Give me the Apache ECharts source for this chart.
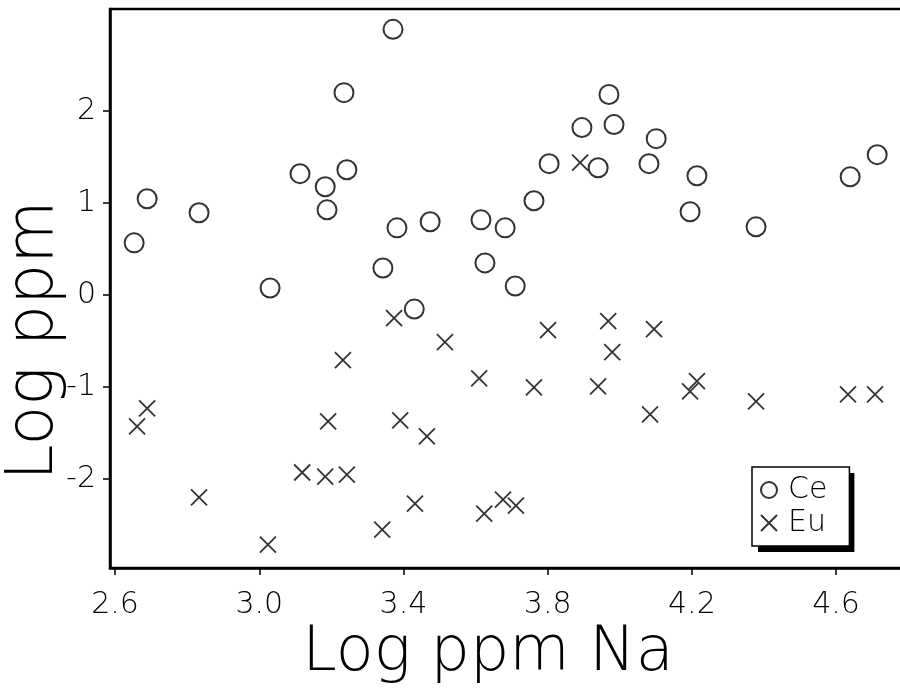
<!DOCTYPE html>
<html>
<head>
<meta charset="utf-8">
<script src="https://cdn.jsdelivr.net/npm/echarts@6/dist/echarts.min.js"></script>
<style>html,body{margin:0;padding:0;background:#fff}#c{width:900px;height:688px}</style>
</head>
<body>
<div id="c"></div>
<script>
// Ce (open circles)
var ceX = [2.653,2.689,2.833,3.030,3.113,3.183,3.188,3.235,3.243,3.371,3.382,3.343,3.474,3.430,3.970,3.895,3.984,4.101,3.804,3.940,4.081,4.214,4.714,4.639,3.762,4.195,3.615,3.682,4.378,3.626,3.710];
var ceY = [0.567,1.046,0.894,0.076,1.319,1.177,0.926,2.20,1.362,2.888,0.730,0.294,0.796,-0.153,2.18,1.82,1.853,1.70,1.428,1.384,1.428,1.297,1.526,1.286,1.025,0.905,0.817,0.730,0.741,0.349,0.098];
// Eu (crosses)
var euX = [2.661,2.689,2.833,3.024,3.119,3.183,3.243,3.191,3.232,3.374,3.391,3.465,3.432,3.341,3.515,3.610,3.801,3.762,3.968,3.979,3.940,4.095,4.084,4.195,4.214,4.378,4.633,4.708,3.624,3.676,3.712,3.890];
var euY = [-1.428,-1.232,-2.20,-2.714,-1.929,-1.973,-1.951,-1.373,-0.708,-0.251,-1.362,-1.537,-2.267,-2.550,-0.512,-0.905,-0.381,-1.003,-0.283,-0.621,-0.992,-0.371,-1.297,-1.046,-0.937,-1.155,-1.079,-1.079,-2.376,-2.223,-2.289,1.439];
var xTicks = [2.6,3.0,3.4,3.8,4.2,4.6];
var yTicks = [-2,-1,0,1,2];
var legendNames = ['Ce','Eu'];

function zip(a,b){return a.map(function(v,i){return [v,b[i]];});}
var FONT = 'DejaVu Sans';
var FW = 200;
var legendCommon = {
  orient:'vertical', padding:[8,22,8,8], itemGap:3, itemWidth:16, itemHeight:16,
  selectedMode:false, data:legendNames
};
var chart = echarts.init(document.getElementById('c'), null, {renderer:'canvas'});
chart.setOption({
  animation:false,
  backgroundColor:'#fff',
  grid:{left:110, right:-10, top:9, bottom:120, show:true, borderColor:'#000', borderWidth:2.5, outerBoundsMode:'none', containLabel:false},
  xAxis:{
    type:'value', min:2.586, max:4.805,
    axisLine:{show:true, onZero:false, lineStyle:{color:'#000', width:2.5}},
    axisTick:{show:true, length:7, lineStyle:{color:'#000', width:1.5}, customValues:xTicks},
    axisLabel:{customValues:xTicks, formatter:function(v){return v.toFixed(1);}, color:'#000', fontSize:30, fontFamily:FONT, fontWeight:FW, margin:22},
    splitLine:{show:false},
    name:'Log ppm Na', nameLocation:'middle', nameGap:55, nameMoveOverlap:false,
    nameTextStyle:{fontSize:62, fontFamily:FONT, fontWeight:FW, color:'#000', padding:[0,44,0,0]}
  },
  yAxis:{
    type:'value', min:-2.967, max:3.109,
    axisLine:{show:true, onZero:false, lineStyle:{color:'#000', width:2.5}},
    axisTick:{show:true, length:7, lineStyle:{color:'#000', width:1.5}, customValues:yTicks},
    axisLabel:{customValues:yTicks, formatter:function(v){return String(v);}, color:'#000', fontSize:30, fontFamily:FONT, fontWeight:FW, margin:14},
    splitLine:{show:false},
    name:'Log ppm', nameLocation:'middle', nameGap:42, nameMoveOverlap:false,
    nameTextStyle:{fontSize:65, fontFamily:FONT, fontWeight:FW, color:'#000', padding:[0,104,0,0]}
  },
  legend:[
    Object.assign({}, legendCommon, {
      left:758, top:473, z:3, backgroundColor:'#000', borderWidth:0, icon:'none',
      textStyle:{fontSize:30, fontFamily:FONT, fontWeight:FW, color:'rgba(0,0,0,0)', padding:[0,0,0,6]}
    }),
    Object.assign({}, legendCommon, {
      left:752, top:467, z:4, backgroundColor:'#fff', borderColor:'#000', borderWidth:1.5,
      textStyle:{fontSize:30, fontFamily:FONT, fontWeight:FW, color:'#000', padding:[0,0,0,6]}
    })
  ],
  series:[
    {name:'Ce', type:'scatter', data:zip(ceX,ceY), symbol:'circle', symbolSize:19,
     itemStyle:{color:'rgba(255,255,255,0)', borderColor:'#000', borderWidth:2}},
    {name:'Eu', type:'scatter', data:zip(euX,euY), symbol:'path://M0,0L10,10M10,0L0,10', symbolSize:16,
     itemStyle:{color:'rgba(255,255,255,0)', borderColor:'#000', borderWidth:1.8}}
  ]
});
</script>
</body>
</html>
